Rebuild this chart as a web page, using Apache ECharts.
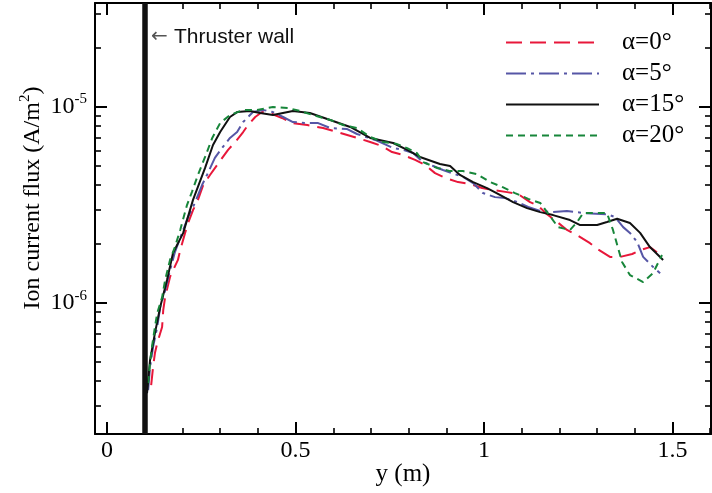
<!DOCTYPE html>
<html><head><meta charset="utf-8">
<script src="https://cdn.jsdelivr.net/npm/echarts@6/dist/echarts.min.js"></script>
<style>html,body{margin:0;padding:0;background:#fff}#c{width:712px;height:493px}</style>
</head><body><div id="c"></div>
<script>
// ---- data ----
const seriesNames = ['α=0°', 'α=5°', 'α=15°', 'α=20°'];
const wallPosition = 0.1;
const xMajorTicks = [0, 0.5, 1, 1.5];
const xMinorTicks = [0.1, 0.2, 0.3, 0.4, 0.6, 0.7, 0.8, 0.9, 1.1, 1.2, 1.3, 1.4, 1.6];
const yMajorTicks = [1e-6, 1e-5];
const yMinorTicks = [3e-7, 4e-7, 5e-7, 6e-7, 7e-7, 8e-7, 9e-7, 2e-6, 3e-6, 4e-6, 5e-6, 6e-6, 7e-6, 8e-6, 9e-6, 2e-5, 3e-5];

const x0 = [0.117,0.122,0.127,0.133,0.146,0.149,0.154,0.167,0.188,0.194,0.207,0.215,0.228,0.239,0.255,0.273,0.292,0.305,0.321,0.340,0.361,0.374,0.393,0.411,0.432,0.464,0.491,0.531,0.573,0.610,0.655,0.698,0.729,0.756,0.785,0.817,0.844,0.870,0.897,0.931,0.963,0.995,1.024,1.061,1.090,1.122,1.141,1.167,1.194,1.220,1.247,1.281,1.300,1.334,1.361,1.393,1.414,1.440,1.472];
const flux0 = [3.82e-7,4.71e-7,5.56e-7,6.25e-7,7.55e-7,9.20e-7,1.07e-6,1.36e-6,1.66e-6,1.86e-6,2.28e-6,2.56e-6,2.98e-6,3.27e-6,4.00e-6,4.50e-6,5.06e-6,5.49e-6,6.04e-6,6.63e-6,7.45e-6,8.09e-6,8.89e-6,9.42e-6,9.31e-6,8.79e-6,8.28e-6,8.09e-6,7.81e-6,7.45e-6,7.03e-6,6.63e-6,6.32e-6,5.89e-6,5.69e-6,5.37e-6,5.06e-6,4.60e-6,4.35e-6,4.14e-6,4.05e-6,3.86e-6,3.77e-6,3.68e-6,3.60e-6,3.27e-6,3.16e-6,2.84e-6,2.59e-6,2.36e-6,2.22e-6,2.02e-6,1.89e-6,1.72e-6,1.72e-6,1.78e-6,1.86e-6,1.93e-6,1.74e-6];

const x5 = [0.109,0.114,0.122,0.133,0.141,0.154,0.167,0.180,0.199,0.215,0.233,0.252,0.265,0.286,0.305,0.326,0.345,0.361,0.374,0.387,0.414,0.440,0.467,0.493,0.531,0.560,0.592,0.637,0.663,0.711,0.759,0.785,0.812,0.838,0.865,0.891,0.944,0.971,0.997,1.029,1.056,1.088,1.117,1.149,1.183,1.220,1.263,1.326,1.347,1.369,1.387,1.406,1.422,1.448,1.467];
const flux5 = [3.60e-7,4.71e-7,5.97e-7,7.55e-7,9.55e-7,1.16e-6,1.47e-6,1.82e-6,2.28e-6,2.75e-6,3.24e-6,4.00e-6,4.50e-6,5.50e-6,6.18e-6,6.95e-6,7.45e-6,8.38e-6,8.89e-6,9.42e-6,9.66e-6,9.42e-6,8.89e-6,8.38e-6,8.28e-6,8.28e-6,7.81e-6,7.72e-6,7.28e-6,6.79e-6,6.18e-6,6.04e-6,5.82e-6,5.24e-6,5.00e-6,4.77e-6,4.40e-6,4.09e-6,3.64e-6,3.47e-6,3.43e-6,3.28e-6,3.09e-6,2.95e-6,2.91e-6,2.95e-6,2.88e-6,2.84e-6,2.75e-6,2.44e-6,2.28e-6,2.05e-6,1.72e-6,1.53e-6,1.42e-6];

const x15 = [0.106,0.114,0.127,0.141,0.159,0.175,0.202,0.228,0.260,0.281,0.300,0.326,0.345,0.379,0.406,0.440,0.493,0.538,0.584,0.645,0.698,0.759,0.796,0.830,0.883,0.910,0.936,0.971,1.008,1.042,1.077,1.114,1.149,1.183,1.228,1.255,1.300,1.326,1.353,1.387,1.414,1.440,1.475];
const flux15 = [3.47e-7,5.12e-7,7.03e-7,9.55e-7,1.31e-6,1.80e-6,2.28e-6,3.36e-6,4.89e-6,6.40e-6,7.45e-6,8.89e-6,9.42e-6,9.55e-6,9.31e-6,9.10e-6,9.54e-6,9.32e-6,8.68e-6,7.91e-6,6.95e-6,6.55e-6,6.04e-6,5.56e-6,5.12e-6,5.00e-6,4.50e-6,4.14e-6,3.86e-6,3.56e-6,3.27e-6,3.05e-6,2.91e-6,2.81e-6,2.65e-6,2.50e-6,2.50e-6,2.59e-6,2.69e-6,2.56e-6,2.28e-6,1.93e-6,1.66e-6];

const x20 = [0.109,0.114,0.119,0.127,0.133,0.146,0.154,0.167,0.180,0.194,0.212,0.225,0.241,0.260,0.279,0.300,0.326,0.361,0.398,0.440,0.480,0.512,0.546,0.592,0.626,0.663,0.698,0.732,0.769,0.796,0.822,0.838,0.875,0.910,0.944,0.981,1.016,1.048,1.082,1.117,1.149,1.175,1.196,1.228,1.247,1.263,1.326,1.342,1.366,1.387,1.422,1.448,1.472];
const flux20 = [3.91e-7,4.94e-7,5.97e-7,7.55e-7,8.89e-7,1.07e-6,1.31e-6,1.66e-6,1.93e-6,2.36e-6,3.16e-6,3.68e-6,4.50e-6,5.56e-6,6.95e-6,8.28e-6,9.10e-6,9.66e-6,9.66e-6,1.00e-5,9.88e-6,9.54e-6,9.10e-6,8.59e-6,8.09e-6,7.81e-6,7.03e-6,6.63e-6,6.47e-6,6.17e-6,5.82e-6,5.24e-6,4.89e-6,4.71e-6,4.71e-6,4.55e-6,4.14e-6,3.91e-6,3.64e-6,3.40e-6,3.24e-6,2.78e-6,2.44e-6,2.36e-6,2.59e-6,2.88e-6,2.88e-6,2.36e-6,1.62e-6,1.39e-6,1.28e-6,1.42e-6,1.76e-6];

// ---- chart ----
const lg = v => Math.log10(v);
const pairs = (xs, ys) => xs.map((x, i) => [x, lg(ys[i])]);
const SERIF = 'Liberation Serif';
const X_MIN = -0.032, X_MAX = 1.602;
const Y_MIN = lg(2.15e-7), Y_MAX = lg(3.39e-5);

function xAxisDef(pos, major, showLabel, showLine) {
  return {
    type: 'value', position: pos, min: X_MIN, max: X_MAX,
    axisLine: { show: showLine, onZero: false, lineStyle: { color: '#000', width: 2 } },
    axisTick: { show: true, inside: true, length: major ? 12 : 6,
      customValues: major ? xMajorTicks : xMinorTicks,
      lineStyle: { color: '#000', width: major ? 2 : 1.6 } },
    axisLabel: { show: showLabel, customValues: xMajorTicks, margin: 5,
      fontFamily: SERIF, fontSize: 24, color: '#000', formatter: v => String(v) },
    splitLine: { show: false }
  };
}
function yAxisDef(pos, major, showLabel, showLine) {
  return {
    type: 'value', position: pos, min: Y_MIN, max: Y_MAX,
    axisLine: { show: showLine, onZero: false, lineStyle: { color: '#000', width: 2 } },
    axisTick: { show: true, inside: true, length: major ? 12 : 6,
      customValues: (major ? yMajorTicks : yMinorTicks).map(lg),
      lineStyle: { color: '#000', width: major ? 2 : 1.6 } },
    axisLabel: { show: showLabel, customValues: yMajorTicks.map(lg), margin: 8,
      formatter: v => '{b|10}{s|' + Math.round(v) + '}',
      rich: {
        b: { fontFamily: SERIF, fontSize: 24, color: '#000', verticalAlign: 'middle', lineHeight: 30 },
        s: { fontFamily: SERIF, fontSize: 15, color: '#000', verticalAlign: 'top', lineHeight: 15 }
      } },
    splitLine: { show: false }
  };
}

const colors = ['#e8173a', '#5656a6', '#111111', '#17863a'];
const dashes = [[16, 8], [20, 5, 3, 5], 'solid', [7, 5]];
const xs = [x0, x5, x15, x20];
const fs = [flux0, flux5, flux15, flux20];

const series = [{
  name: 'wall', type: 'line', data: [], silent: true,
  markLine: { silent: true, symbol: ['none', 'none'], label: { show: false },
    lineStyle: { color: '#111', width: 5.5, type: 'solid' },
    emphasis: { disabled: true },
    data: [{ xAxis: wallPosition }] }
}];
seriesNames.forEach((n, i) => {
  series.push({
    name: n, type: 'line', xAxisIndex: 0, yAxisIndex: 0,
    data: pairs(xs[i], fs[i]), symbol: 'none', showSymbol: false,
    lineStyle: { color: colors[i], width: 2, type: dashes[i] },
    itemStyle: { color: colors[i] }
  });
});

const chart = echarts.init(document.getElementById('c'), null, { renderer: 'canvas' });
chart.setOption({
  animation: false,
  backgroundColor: '#fff',
  textStyle: { fontFamily: SERIF },
  grid: { left: 95, right: 1, top: 3, bottom: 59, outerBoundsMode: 'none' },
  xAxis: [
    xAxisDef('bottom', true, true, true),
    xAxisDef('bottom', false, false, false),
    xAxisDef('top', true, false, true),
    xAxisDef('top', false, false, false)
  ],
  yAxis: [
    yAxisDef('left', true, true, true),
    yAxisDef('left', false, false, false),
    yAxisDef('right', true, false, true),
    yAxisDef('right', false, false, false)
  ],
  legend: {
    data: seriesNames, orient: 'vertical', left: 505, top: 30, padding: 0,
    itemWidth: 93, itemHeight: 14, itemGap: 6,
    itemStyle: { opacity: 0 },
    textStyle: { fontFamily: SERIF, fontSize: 25, color: '#000', lineHeight: 25, padding: [0, 0, 0, 18] }
  },
  graphic: [
    { type: 'text', x: 33, y: 198, rotation: Math.PI / 2,
      style: { text: '{b|Ion current flux (A/m}{s|2}{b|)}', align: 'center', verticalAlign: 'middle',
        rich: {
          b: { fontFamily: SERIF, fontSize: 24, fill: '#000', verticalAlign: 'middle', lineHeight: 30 },
          s: { fontFamily: SERIF, fontSize: 15, fill: '#000', verticalAlign: 'top', lineHeight: 15 }
        } } },
    { type: 'text', x: 403, y: 474,
      style: { text: 'y (m)', font: '25px "Liberation Serif"', fill: '#000', align: 'center', verticalAlign: 'middle' } },
    { type: 'text', x: 151, y: 37,
      style: { text: '←', font: '20px "DejaVu Sans"', fill: '#555', align: 'left', verticalAlign: 'middle' } },
    { type: 'text', x: 174, y: 37,
      style: { text: 'Thruster wall', font: '21px "Liberation Sans"', fill: '#111', align: 'left', verticalAlign: 'middle' } }
  ],
  series: series
});
</script>
</body></html>
